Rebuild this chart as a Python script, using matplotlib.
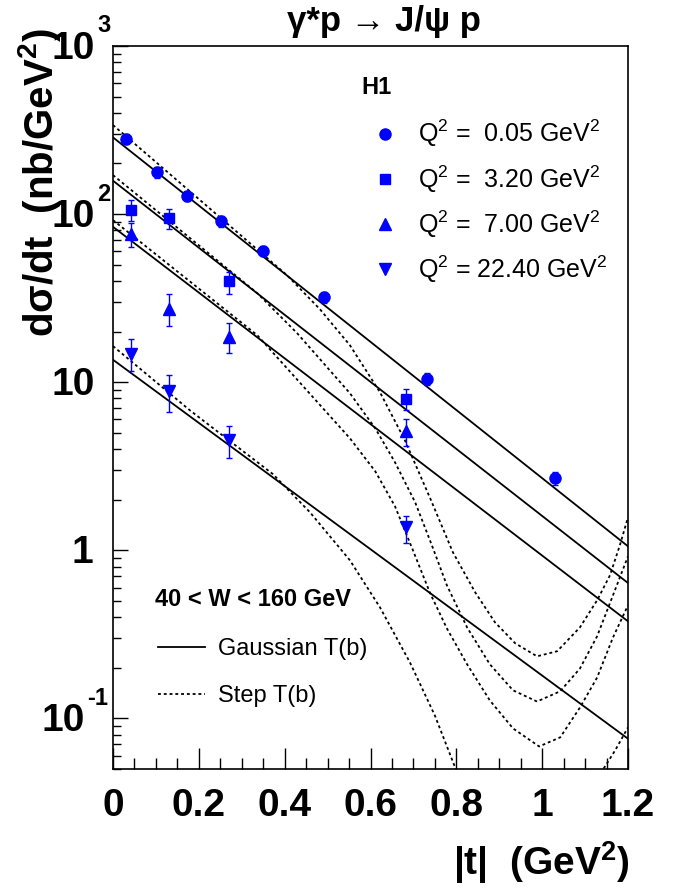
import matplotlib
matplotlib.use('Agg')
import matplotlib.pyplot as plt
from matplotlib.lines import Line2D
from matplotlib.ticker import FixedLocator, MultipleLocator, LogLocator, NullFormatter
from matplotlib.transforms import blended_transform_factory, offset_copy

plt.rcParams['font.family'] = ['Liberation Sans', 'DejaVu Sans']
plt.rcParams['mathtext.fontset'] = 'custom'
plt.rcParams['mathtext.rm'] = 'Liberation Sans'
plt.rcParams['mathtext.bf'] = 'Liberation Sans:bold'
plt.rcParams['mathtext.it'] = 'Liberation Sans:italic'

# H1 data, d(sigma)/dt in nb/GeV^2 vs |t|
q2_labels = ['0.05', '3.20', '7.00', '22.40']
markers = ['o', 's', '^', 'v']
msizes = [8, 7, 8, 8]

t_q0 = [0.030, 0.102, 0.172, 0.252, 0.350, 0.492, 0.732, 1.031]
xs_q0 = [281, 178, 128, 90.8, 60.5, 32.1, 10.5, 2.68]
lo_q0 = [20, 13, 9, 7, 4.5, 2.5, 0.9, 0.25]
hi_q0 = [20, 13, 9, 7, 4.5, 2.5, 0.9, 0.25]

t_q1 = [0.042, 0.130, 0.271, 0.682]
xs_q1 = [105.6, 94.3, 39.9, 7.89]
lo_q1 = [14.6, 13.3, 6.2, 1.09]
hi_q1 = [15.4, 12.7, 5.3, 1.16]

t_q2 = [0.042, 0.130, 0.271, 0.682]
xs_q2 = [76, 27.1, 18.5, 5.16]
lo_q2 = [12, 5.6, 3.5, 0.96]
hi_q2 = [12, 6.2, 4.1, 0.91]

t_q3 = [0.042, 0.130, 0.271, 0.682]
xs_q3 = [14.8, 8.84, 4.52, 1.38]
lo_q3 = [3.1, 2.18, 0.96, 0.28]
hi_q3 = [3.2, 2.16, 0.95, 0.22]

# Gaussian T(b): pure exponentials (straight on log scale)
gauss_t = [0.0, 1.2]
gauss_q0 = [286, 1.056]
gauss_q1 = [158, 0.639]
gauss_q2 = [84, 0.378]
gauss_q3 = [13.6, 0.0757]

# Step T(b): diffractive dips
step_t_q0 = [0, 0.203, 0.405, 0.482, 0.552, 0.622, 0.680, 0.739, 0.792, 0.844,
             0.890, 0.937, 0.988, 1.035, 1.088, 1.128, 1.158, 1.181, 1.2]
step_q0 = [338.6, 121, 43.4, 27.2, 16.6, 8.72, 4.52, 2.04, 0.973, 0.562,
           0.373, 0.280, 0.234, 0.251, 0.348, 0.504, 0.710, 1.071, 1.572]
step_t_q1 = [0, 0.336, 0.429, 0.552, 0.611, 0.657, 0.704, 0.743, 0.778, 0.825,
             0.878, 0.932, 0.988, 1.042, 1.088, 1.128, 1.165, 1.2]
step_q1 = [170.6, 33.9, 19.57, 8.60, 5.32, 3.34, 1.931, 1.071, 0.619, 0.348,
           0.210, 0.147, 0.126, 0.145, 0.198, 0.308, 0.540, 0.921]
step_t_q2 = [0, 0.336, 0.552, 0.611, 0.657, 0.697, 0.739, 0.778, 0.825,
             0.878, 0.932, 0.993, 1.042, 1.088, 1.128, 1.165, 1.2]
step_q2 = [92.1, 19.05, 4.64, 2.953, 1.828, 1.028, 0.555, 0.343, 0.210,
           0.128, 0.0872, 0.0681, 0.0771, 0.116, 0.175, 0.303, 0.471]
step_t_q3 = [0, 0.179, 0.373, 0.459, 0.552, 0.622, 0.692, 0.750, 0.799, 0.820,
             1.123, 1.142, 1.170, 1.2]
step_q3 = [16.4, 6.81, 2.834, 1.683, 0.872, 0.458, 0.215, 0.104, 0.0497, 0.0325,
           0.0325, 0.0497, 0.0645, 0.0884]

# y axis labels, ROOT style: base + superscript
ytick_vals = [0.1, 1, 10, 100, 1000]
ytick_base = ['10', '1', '10', '10', '10']
ytick_exp = ['-1', '', '', '2', '3']

data = [(t_q0, xs_q0, lo_q0, hi_q0), (t_q1, xs_q1, lo_q1, hi_q1),
        (t_q2, xs_q2, lo_q2, hi_q2), (t_q3, xs_q3, lo_q3, hi_q3)]
gauss = [gauss_q0, gauss_q1, gauss_q2, gauss_q3]
steps = [(step_t_q0, step_q0), (step_t_q1, step_q1),
         (step_t_q2, step_q2), (step_t_q3, step_q3)]

fig = plt.figure(figsize=(6.78, 8.9), dpi=100)
ax = fig.add_axes([113/678, 1 - 769/890, 515/678, 723/890])
ax.set_yscale('log')

dash = (0, (1.6, 1.6))
for g in gauss:
    ax.plot(gauss_t, g, color='black', lw=1.3)
for st, sv in steps:
    ax.plot(st, sv, color='black', lw=1.3, linestyle=dash)

handles = []
for (t, v, lo, hi), m, ms in zip(data, markers, msizes):
    ax.errorbar(t, v, yerr=[lo, hi], fmt='none', ecolor='blue',
                elinewidth=1, capsize=2.5, capthick=1)
    h, = ax.plot(t, v, m, color='blue', ms=ms, mec='blue', linestyle='none')
    handles.append(h)

ax.set_xlim(0, 1.2)
ax.set_ylim(0.05, 1000)

ax.xaxis.set_major_locator(FixedLocator([0, 0.2, 0.4, 0.6, 0.8, 1.0, 1.2]))
ax.set_xticklabels(['0', '0.2', '0.4', '0.6', '0.8', '1', '1.2'])
ax.xaxis.set_minor_locator(MultipleLocator(0.05))
ax.yaxis.set_major_locator(FixedLocator(ytick_vals))
ax.yaxis.set_minor_locator(LogLocator(base=10, subs=range(2, 10)))
ax.yaxis.set_minor_formatter(NullFormatter())

ax.tick_params(which='both', direction='in', top=False, right=False, width=1)
ax.tick_params(axis='x', which='major', length=15, pad=14, labelsize=28)
ax.tick_params(axis='x', which='minor', length=8)
ax.tick_params(axis='y', which='major', length=11, labelleft=False)
ax.tick_params(axis='y', which='minor', length=6)
for lab in ax.get_xticklabels():
    lab.set_fontweight('bold')
for s in ax.spines.values():
    s.set_linewidth(1.2)

# y tick labels drawn by hand so the exponents sit like ROOT's
px = 72 / fig.dpi
trans = blended_transform_factory(ax.transAxes, ax.transData)
for val, base, ex in zip(ytick_vals, ytick_base, ytick_exp):
    right = -28 if ex.startswith('-') else (-20 if base == '1' else -18)
    ax.text(0, val, base, transform=offset_copy(trans, fig=fig, x=right * px,
            y=-3 * px, units='points'), ha='right', va='center',
            fontsize=28, fontweight='bold')
    if ex:
        ax.text(0, val, ex, transform=offset_copy(trans, fig=fig,
                x=(right + 2) * px, y=20 * px, units='points'),
                ha='left', va='center', fontsize=17, fontweight='bold')

fig.text(384/678, 1 - 22/890, 'γ*p → J/ψ p', ha='center', va='center',
         fontsize=25, fontweight='bold')
fig.text(40/678, 1 - 28/890, r'dσ/dt  (nb/GeV$^{\mathbf{2}}$)', rotation=90,
         ha='center', va='top', fontsize=29, fontweight='bold')
fig.text(630/678, 1 - 863/890, r'|t|  (GeV$^{\mathbf{2}}$)', ha='right',
         va='center', fontsize=28, fontweight='bold')

fig.text(376/678, 1 - 88/890, 'H1', ha='center', va='center',
         fontsize=17, fontweight='bold')
leg1 = ax.legend(handles, [r'Q$^2$ =  ' + q + r' GeV$^2$' if q != '22.40'
                           else r'Q$^2$ = ' + q + r' GeV$^2$' for q in q2_labels],
                 loc='upper left', bbox_to_anchor=(372/678, 1 - 118/890),
                 bbox_transform=fig.transFigure, frameon=False, fontsize=18,
                 handlelength=1.0, handletextpad=0.85, labelspacing=0.55,
                 borderpad=0, borderaxespad=0)
ax.add_artist(leg1)

fig.text(155/678, 1 - 599/890, '40 < W < 160 GeV', ha='left', va='center',
         fontsize=17, fontweight='bold')
lines = [Line2D([], [], color='black', lw=1.3),
         Line2D([], [], color='black', lw=1.3, linestyle=dash)]
ax.legend(lines, ['Gaussian T(b)', 'Step T(b)'], loc='upper left',
          bbox_to_anchor=(158/678, 1 - 638/890), bbox_transform=fig.transFigure,
          frameon=False, fontsize=17, handlelength=2.0, handletextpad=0.55,
          labelspacing=1.05, borderpad=0, borderaxespad=0)

fig.savefig('out.png', dpi=100)
